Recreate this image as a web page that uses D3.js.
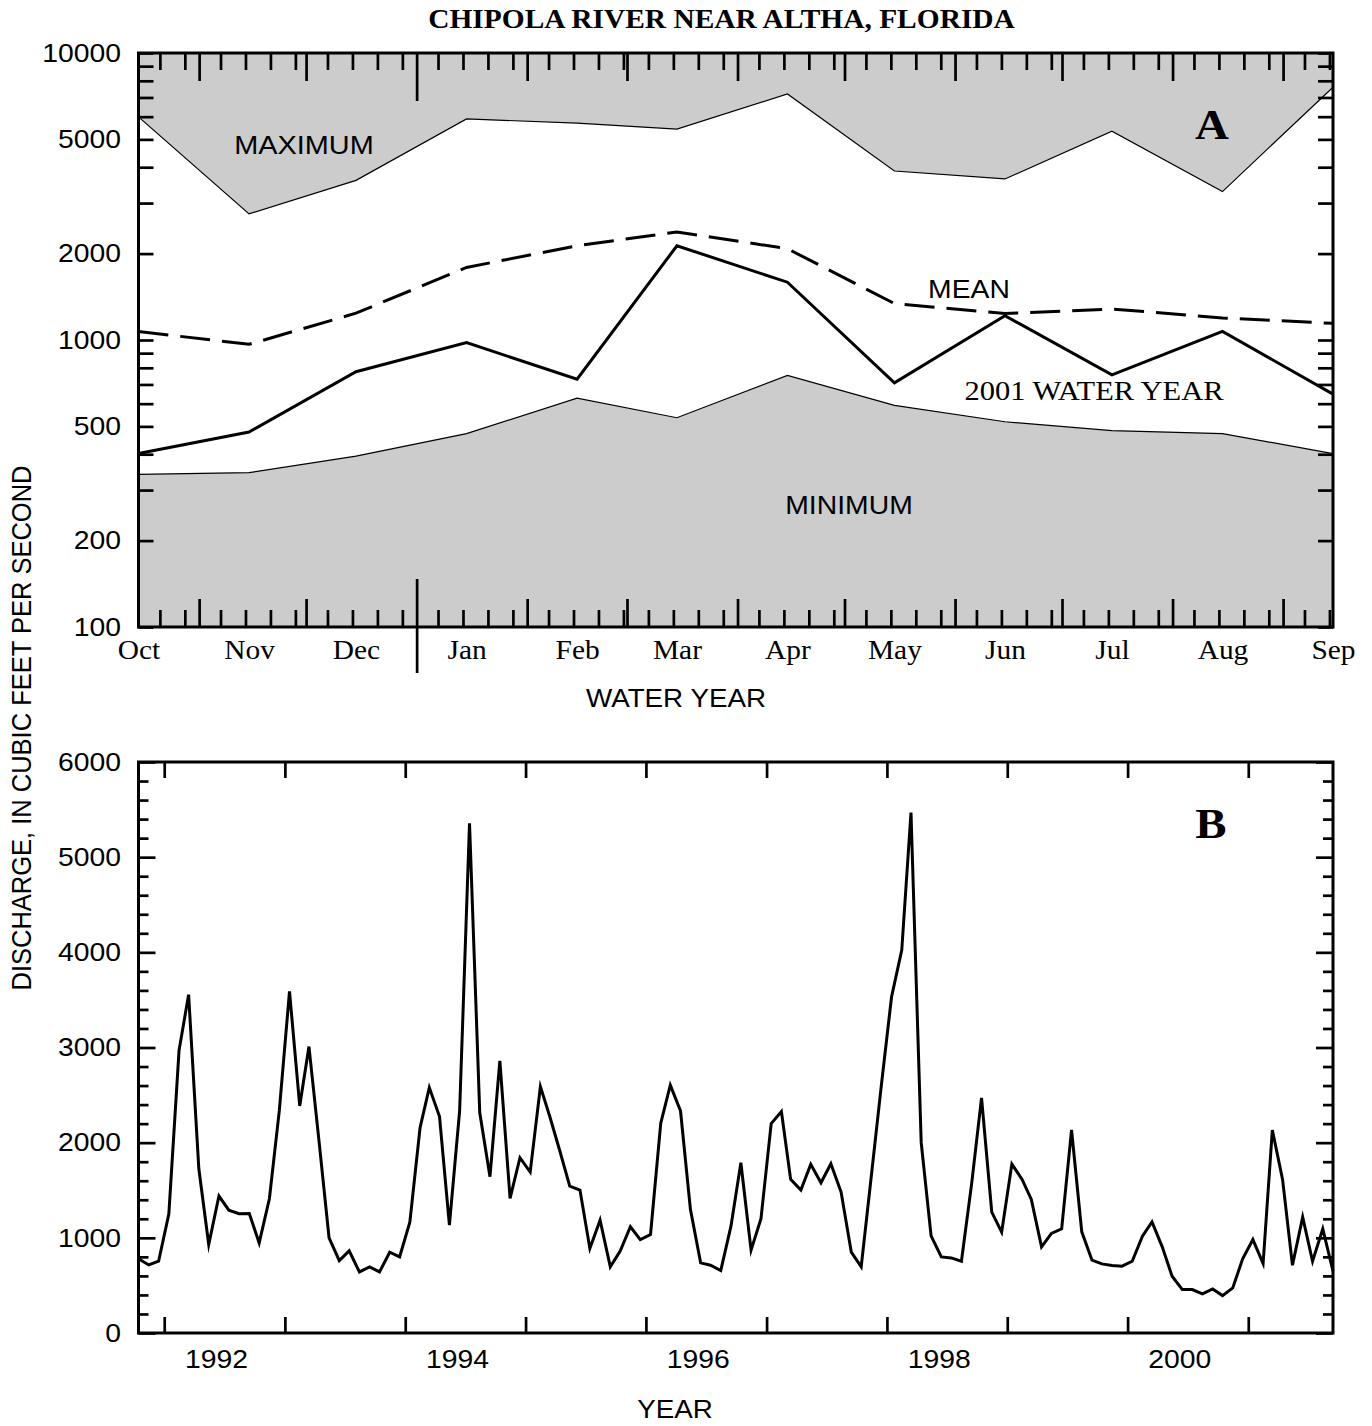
<!DOCTYPE html>
<html><head><meta charset="utf-8">
<script src="https://cdn.jsdelivr.net/npm/d3@7"></script>
<style>body{margin:0;background:#fff}</style>
</head><body>
<svg id="c" width="1372" height="1426"></svg>
<script>
// ---------- DATA ----------
const months = ["Oct","Nov","Dec","Jan","Feb","Mar","Apr","May","Jun","Jul","Aug","Sep"];
const maxFlow    = [5990, 2750, 3600, 5890, 5700, 5430, 7200, 3880, 3640, 5340, 3290, 7600];
const meanFlow   = [1070,  966, 1240, 1790, 2130, 2380, 2080, 1340, 1237, 1282, 1194, 1143];
const wy2001Flow = [ 402,  478,  775,  979,  730, 2130, 1590,  709, 1215,  756, 1071,  648];
const minFlow    = [ 340,  345,  394,  472,  627,  536,  753,  592,  519,  483,  472,  402];
const logTickLabels = [100, 200, 500, 1000, 2000, 5000, 10000];

// monthly mean discharge, Oct 1991 - Sep 2001
const monthlyFlow = [
  780, 715, 754, 1250, 2970, 3555, 1726, 930, 1439, 1291, 1253, 1256,   // WY1992
  947, 1411, 2333, 3590, 2386, 3010, 2000, 1000, 761, 863, 642, 695,    // WY1993
  642, 849, 800, 1165, 2158, 2579, 2274, 1133, 2333, 5357, 2316, 1642,  // WY1994
  2860, 1414, 1842, 1691, 2589, 2281, 1912, 1544, 1502, 888, 1186, 695, // WY1995
  860, 1116, 982, 1035, 2204, 2604, 2333, 1300, 737, 712, 656, 1123,    // WY1996
  1789, 870, 1200, 2200, 2326, 1614, 1502, 1772, 1579, 1779, 1481, 849, // WY1997
  695, 1660, 2600, 3531, 4024, 5468, 2000, 1020, 800, 789, 754, 1570,   // WY1998
  2470, 1270, 1060, 1775, 1614, 1404, 905, 1046, 1095, 2133, 1063, 765, // WY1999
  726, 709, 702, 754, 1018, 1168, 905, 596, 456, 456, 411, 463,         // WY2000
  393, 474, 779, 982, 730, 2133, 1614, 712, 1218, 754, 1095, 649        // WY2001
];
const yearTicks = [1992,1993,1994,1995,1996,1997,1998,1999,2000,2001];
const yearLabels = [1992,1994,1996,1998,2000];
const linTickLabels = [0,1000,2000,3000,4000,5000,6000];

// ---------- SETUP ----------
const SANS = "'Liberation Sans', Arial, Helvetica, sans-serif";
const SERIF = "'Liberation Serif', 'Times New Roman', Times, serif";
const SX = 1.09;
const svg = d3.select("#c");
svg.append("rect").attr("width",1372).attr("height",1426).attr("fill","#fff");

function label(x, y, txt, o) {
  const t = svg.append("text")
    .attr("transform", o.rot ? `translate(${x},${y}) rotate(-90) scale(1,${SX})` : `translate(${x},${y}) scale(${SX},1)`)
    .attr("text-anchor", o.anchor || "middle")
    .attr("font-family", o.family || SANS)
    .attr("font-size", o.size)
    .attr("font-weight", o.weight || "normal")
    .attr("fill", "#000")
    .text(txt);
  return t;
}
function tickAxis(gen, tr, values, size, sw) {
  const g = svg.append("g").attr("transform", tr)
    .call(gen.tickValues(values).tickSize(size).tickFormat(""));
  g.select(".domain").remove();
  g.selectAll("line").attr("stroke","#000").attr("stroke-width", sw || 2.7);
  return g;
}

// ---------- PANEL A ----------
const A = {l:138.5, r:1333, t:53, b:627};
const monthDates = months.map((m,i) => new Date(2000, 9 + i, 15));
const xA = d3.scaleTime().domain([monthDates[0], monthDates[11]]).range([A.l, A.r]);
const yA = d3.scaleLog().domain([100, 10000]).range([A.b, A.t]);
const xa = (d,i) => xA(monthDates[i]);

svg.append("path").datum(maxFlow)
  .attr("d", d3.area().x(xa).y0(A.t).y1(d => yA(d)))
  .attr("fill", "#cccccc");
svg.append("path").datum(minFlow)
  .attr("d", d3.area().x(xa).y0(A.b).y1(d => yA(d)))
  .attr("fill", "#cccccc");
[maxFlow, minFlow].forEach(arr => {
  svg.append("path").datum(arr)
    .attr("d", d3.line().x(xa).y(d => yA(d)))
    .attr("fill","none").attr("stroke","#000").attr("stroke-width",1.2);
});
svg.append("path").datum(meanFlow)
  .attr("d", d3.line().x(xa).y(d => yA(d)))
  .attr("fill","none").attr("stroke","#000").attr("stroke-width",3)
  .attr("stroke-dasharray","30,12");
svg.append("path").datum(wy2001Flow)
  .attr("d", d3.line().x(xa).y(d => yA(d)))
  .attr("fill","none").attr("stroke","#000").attr("stroke-width",3);

// x ticks panel A
const days = d3.timeDay.range(xA.domain()[0], d3.timeDay.offset(xA.domain()[1], 1));
const weekly = days.filter(d => [7,14,21,28].includes(d.getDate()));
const monthStarts = days.filter(d => d.getDate() === 1 && d.getMonth() !== 0);
const yearStart = days.filter(d => d.getDate() === 1 && d.getMonth() === 0);
tickAxis(d3.axisTop(xA), `translate(0,${A.t})`, weekly, -17);
tickAxis(d3.axisTop(xA), `translate(0,${A.t})`, monthStarts, -28);
tickAxis(d3.axisTop(xA), `translate(0,${A.t})`, yearStart, -48);
tickAxis(d3.axisBottom(xA), `translate(0,${A.b})`, weekly, -17);
tickAxis(d3.axisBottom(xA), `translate(0,${A.b})`, monthStarts, -28);
tickAxis(d3.axisBottom(xA), `translate(0,${A.b})`, yearStart, -48);
tickAxis(d3.axisBottom(xA), `translate(0,${A.b})`, yearStart, 46);

// month labels
const mAx = svg.append("g").attr("transform", `translate(0,${A.b})`)
  .call(d3.axisBottom(xA).tickValues(monthDates).tickSize(0).tickFormat((d,i) => months[i]));
mAx.select(".domain").remove();
mAx.selectAll("text").attr("y", 32).attr("dy", 0)
  .attr("font-family", SERIF).attr("font-size", 27).attr("fill","#000")
  .attr("transform", `scale(${SX},1)`);

// y ticks panel A
const logTicks = d3.range(100, 1000, 100).concat(d3.range(1000, 10001, 1000));
const yAxL = tickAxis(d3.axisLeft(yA), `translate(${A.l},0)`, logTicks, -15);
tickAxis(d3.axisRight(yA), `translate(${A.r},0)`, logTicks, -15);
const yLab = svg.append("g").attr("transform", `translate(${A.l},0)`)
  .call(d3.axisLeft(yA).tickValues(logTickLabels).tickSize(0).tickPadding(16).tickFormat(d3.format("d")));
yLab.select(".domain").remove();
yLab.selectAll("text").attr("font-family", SANS).attr("font-size", 26).attr("fill","#000")
  .attr("transform", `scale(${SX},1)`);

svg.append("rect").attr("x",A.l).attr("y",A.t).attr("width",A.r-A.l).attr("height",A.b-A.t)
  .attr("fill","none").attr("stroke","#000").attr("stroke-width",3);

label(721.5, 27.5, "CHIPOLA RIVER NEAR ALTHA, FLORIDA", {size:27, family:SERIF, weight:"bold"});
label(304, 154, "MAXIMUM", {size:26.5});
label(969, 298, "MEAN", {size:26});
label(1094, 400, "2001 WATER YEAR", {size:28, family:SERIF});
label(849, 514, "MINIMUM", {size:26});
label(1212, 139, "A", {size:43, family:SERIF, weight:"bold"});
label(676, 707, "WATER YEAR", {size:25.5});

// ---------- PANEL B ----------
const B = {l:138.5, r:1333, t:762, b:1333};
const flowStart = new Date(1991, 9, 15);
const flowDates = monthlyFlow.map((v,i) => d3.timeMonth.offset(flowStart, i));
const xB = d3.scaleTime().domain([flowDates[0], flowDates[flowDates.length-1]]).range([B.l, B.r]);
const yB = d3.scaleLinear().domain([0, 6000]).range([B.b, B.t]);

svg.append("path").datum(monthlyFlow)
  .attr("d", d3.line().x((d,i) => xB(flowDates[i])).y(d => yB(d)))
  .attr("fill","none").attr("stroke","#000").attr("stroke-width",3)
  .attr("stroke-miterlimit", 6);

const yearDates = yearTicks.map(y => new Date(y, 0, 1));
tickAxis(d3.axisTop(xB), `translate(0,${B.t})`, yearDates, -16);
tickAxis(d3.axisBottom(xB), `translate(0,${B.b})`, yearDates, -16);

const minorLin = d3.range(0, 6001, 200).filter(v => v % 1000 !== 0);
tickAxis(d3.axisLeft(yB), `translate(${B.l},0)`, minorLin, -10);
tickAxis(d3.axisLeft(yB), `translate(${B.l},0)`, linTickLabels, -17);
tickAxis(d3.axisRight(yB), `translate(${B.r},0)`, minorLin, -10);
tickAxis(d3.axisRight(yB), `translate(${B.r},0)`, linTickLabels, -17);

const yLabB = svg.append("g").attr("transform", `translate(${B.l},0)`)
  .call(d3.axisLeft(yB).tickValues(linTickLabels).tickSize(0).tickPadding(16).tickFormat(d3.format("d")));
yLabB.select(".domain").remove();
yLabB.selectAll("text").attr("font-family", SANS).attr("font-size", 26).attr("fill","#000")
  .attr("transform", `scale(${SX},1)`);

const yearLabelDates = yearLabels.map(y => d3.timeDay.offset(new Date(y, 0, 1), 157));
const xLabB = svg.append("g").attr("transform", `translate(0,${B.b})`)
  .call(d3.axisBottom(xB).tickValues(yearLabelDates).tickSize(0).tickFormat(d => String(d.getFullYear())));
xLabB.select(".domain").remove();
xLabB.selectAll("text").attr("y", 35).attr("dy", 0)
  .attr("font-family", SANS).attr("font-size", 26).attr("fill","#000")
  .attr("transform", `scale(${SX},1)`);

svg.append("rect").attr("x",B.l).attr("y",B.t).attr("width",B.r-B.l).attr("height",B.b-B.t)
  .attr("fill","none").attr("stroke","#000").attr("stroke-width",3);

label(1211, 838, "B", {size:43, family:SERIF, weight:"bold"});
label(675, 1418, "YEAR", {size:25.5});
label(31, 728, "DISCHARGE, IN CUBIC FEET PER SECOND", {size:25.5, rot:true});
</script>
</body></html>
